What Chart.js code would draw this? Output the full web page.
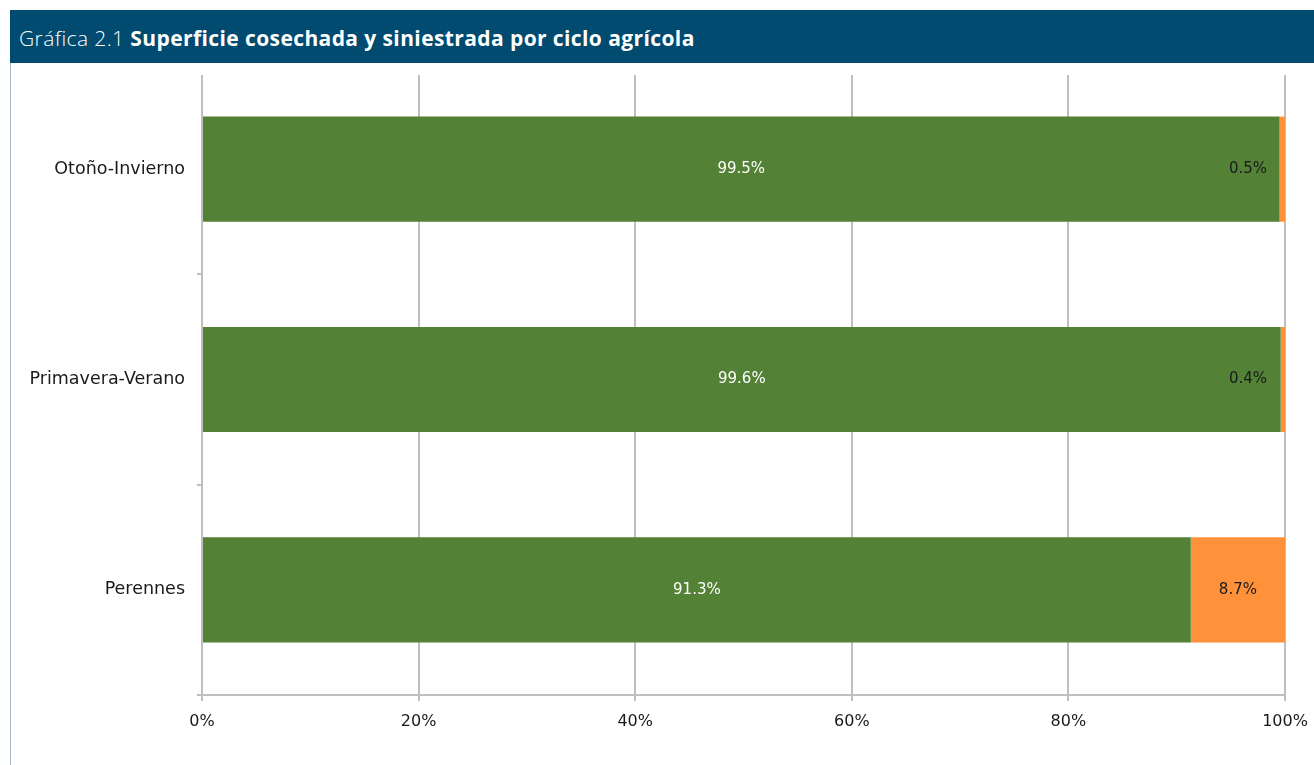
<!DOCTYPE html>
<html>
<head>
<meta charset="utf-8">
<script src="https://cdn.jsdelivr.net/npm/chart.js@4"></script>
<style>
  body { margin: 0; background: #fff; width: 1314px; height: 765px; overflow: hidden; position: relative; }
  #borde { position: absolute; left: 10px; top: 10px; width: 1px; height: 755px; background: #A9B8CC; }
  #titulo {
    position: absolute; left: 10px; top: 10px; width: 1304px; height: 53px;
    background: #004B6F; color: #fff; font-family: "Open Sans", sans-serif; font-size: 21px;
    letter-spacing: 0.4px; line-height: 56px; padding-left: 9px; box-sizing: border-box; white-space: nowrap;
  }
  #titulo .num { font-weight: 300; }
  #titulo b { font-weight: 700; }
  #lienzo { position: absolute; left: 0; top: 63px; }
</style>
</head>
<body>
<div id="borde"></div>
<div id="titulo"><span class="num">Gráfica 2.1</span> <b>Superficie cosechada y siniestrada por ciclo agrícola</b></div>
<canvas id="lienzo" width="1314" height="702"></canvas>
<script>
var ciclos = ["Otoño-Invierno", "Primavera-Verano", "Perennes"];
var cosechada = [99.5, 99.6, 91.3];
var siniestrada = [0.5, 0.4, 8.7];
var ticksX = [0, 20, 40, 60, 80, 100];

var fuente = "'DejaVu Sans', sans-serif";

// etiquetas de valor dentro de las barras
var etiquetas = {
    id: "etiquetas",
    afterDatasetsDraw: function(chart) {
        var ctx = chart.ctx;
        var derecha = chart.chartArea.right;
        ctx.save();
        ctx.font = "15px " + fuente;
        ctx.textBaseline = "middle";
        ctx.textAlign = "center";
        chart.data.datasets.forEach(function(ds, i) {
            chart.getDatasetMeta(i).data.forEach(function(bar, j) {
                var txt = ds.data[j].toFixed(1) + "%";
                var w = ctx.measureText(txt).width;
                var x = (bar.base + bar.x) / 2;
                // como en Excel, no dejar que se salga del area
                x = Math.min(x, derecha - 18 - w / 2);
                ctx.fillStyle = ds.labelColor;
                ctx.fillText(txt, x, bar.y);
            });
        });
        ctx.restore();
    }
};

// la rejilla empieza un poco mas abajo que el area de trazado
var recorte = {
    id: "recorte",
    beforeDatasetsDraw: function(chart) {
        var a = chart.chartArea;
        chart.ctx.save();
        chart.ctx.fillStyle = "#fff";
        chart.ctx.fillRect(a.left - 10, a.top - 2, a.right - a.left + 13, 13);
        chart.ctx.restore();
    }
};

var ctx = document.getElementById("lienzo").getContext("2d");
new Chart(ctx, {
    type: "bar",
    data: {
        labels: ciclos,
        datasets: [{
            label: "Cosechada",
            data: cosechada,
            backgroundColor: "#538135",
            labelColor: "#ffffff"
        }, {
            label: "Siniestrada",
            data: siniestrada,
            backgroundColor: "#FF913B",
            labelColor: "#1a1a1a"
        }]
    },
    options: {
        indexAxis: "y",
        responsive: false,
        animation: false,
        barPercentage: 0.5,
        categoryPercentage: 1,
        layout: { padding: { top: 1, right: 29, left: 0, bottom: 0 } },
        plugins: {
            legend: { display: false },
            tooltip: { enabled: false }
        },
        scales: {
            x: {
                stacked: true,
                min: 0,
                max: 100,
                afterBuildTicks: function(scale) {
                    scale.ticks = ticksX.map(function(v) { return { value: v }; });
                },
                afterFit: function(scale) {
                    scale.height = 70;
                    scale.paddingLeft = 0;
                    scale.paddingRight = 0;
                },
                grid: { color: "#BFBFBF", lineWidth: 2, tickLength: 6 },
                border: { color: "#BFBFBF", width: 2 },
                ticks: {
                    padding: 11,
                    color: "#1a1a1a",
                    font: { family: fuente, size: 16 },
                    callback: function(v) { return v + "%"; }
                }
            },
            y: {
                stacked: true,
                afterFit: function(scale) {
                    scale.width = 202;
                    scale.paddingTop = 0;
                    scale.paddingBottom = 0;
                },
                grid: { drawOnChartArea: false, offset: true, color: "#BFBFBF", lineWidth: 2, tickLength: 5 },
                border: { color: "#BFBFBF", width: 2 },
                ticks: {
                    padding: 12,
                    color: "#1a1a1a",
                    font: { family: fuente, size: 17.5 }
                }
            }
        }
    },
    plugins: [recorte, etiquetas]
});
</script>
</body>
</html>
